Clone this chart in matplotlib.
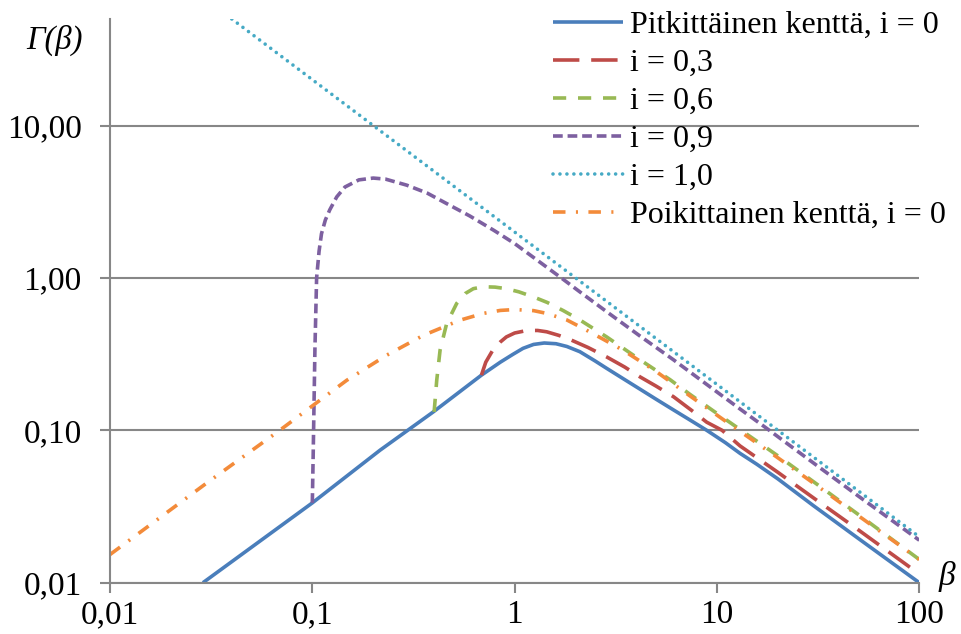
import matplotlib
matplotlib.use('Agg')
import matplotlib.pyplot as plt
from matplotlib.ticker import FixedLocator, FixedFormatter, NullLocator

# Values (log-log axes)
beta_long0 = [0.0288, 0.1, 0.216, 0.396, 0.685, 0.85, 0.98, 1.1, 1.24, 1.4,
              1.6, 1.81, 2.1, 2.5, 2.85, 3.5, 4.17, 5, 6.1, 7.5, 8.9, 11,
              13, 15.7, 20, 30, 50, 100]
gamma_long0 = [0.01, 0.0334, 0.074, 0.132, 0.23, 0.28, 0.315, 0.345, 0.366,
               0.374, 0.37, 0.355, 0.328, 0.285, 0.255, 0.215, 0.186, 0.16,
               0.136, 0.115, 0.1, 0.083, 0.0706, 0.06, 0.048, 0.032, 0.0195,
               0.01]

beta_i03 = [0.685, 0.72, 0.78, 0.85, 0.91, 1.0, 1.15, 1.3, 1.44, 1.65, 1.88,
            2.3, 2.85, 3.5, 4.17, 5, 6.1, 7.5, 8.9, 10.6, 13, 20, 30, 50, 100]
gamma_i03 = [0.23, 0.28, 0.336, 0.38, 0.41, 0.435, 0.452, 0.452, 0.443, 0.42,
             0.394, 0.35, 0.303, 0.26, 0.224, 0.195, 0.166, 0.135, 0.113, 0.1,
             0.079, 0.053, 0.036, 0.0222, 0.0114]

beta_i06 = [0.4, 0.412, 0.428, 0.461, 0.517, 0.57, 0.625, 0.7, 0.8, 0.91,
            1.05, 1.24, 1.45, 1.74, 2.1, 2.85, 4.17, 5.86, 7.36, 9.6, 12.5,
            20, 30, 50, 100]
gamma_i06 = [0.132, 0.213, 0.336, 0.5, 0.68, 0.79, 0.85, 0.875, 0.87, 0.85,
             0.81, 0.75, 0.69, 0.61, 0.53, 0.41, 0.29, 0.215, 0.172, 0.134,
             0.105, 0.068, 0.046, 0.028, 0.0142]

beta_i09 = [0.1, 0.101, 0.103, 0.105, 0.108, 0.111, 0.116, 0.122, 0.132,
            0.145, 0.17, 0.2, 0.23, 0.293, 0.37, 0.46, 0.6, 0.79, 1.0, 1.3,
            1.7, 2.1, 2.85, 4.17, 6.1, 8.9, 13, 17.6, 30, 50, 100]
gamma_i09 = [0.0334, 0.07, 0.34, 1.0, 1.5, 1.95, 2.4, 2.8, 3.4, 3.95, 4.4,
             4.52, 4.45, 4.06, 3.6, 3.08, 2.55, 2.05, 1.68, 1.3, 1.0, 0.81,
             0.6, 0.415, 0.29, 0.2, 0.138, 0.103, 0.061, 0.037, 0.019]

beta_i10 = [0.04, 0.2, 2, 20, 100]
gamma_i10 = [50, 10, 1, 0.1, 0.02]

beta_trans0 = [0.01, 0.03, 0.069, 0.101, 0.148, 0.233, 0.354, 0.537, 0.7,
               0.85, 1.0, 1.24, 1.44, 1.81, 2.19, 2.7, 3.44, 5.03, 7.36, 10.8,
               20, 30, 50, 100]
gamma_trans0 = [0.0153, 0.045, 0.1, 0.146, 0.213, 0.311, 0.42, 0.528, 0.585,
                0.612, 0.62, 0.61, 0.585, 0.53, 0.465, 0.4, 0.335, 0.242,
                0.168, 0.117, 0.066, 0.045, 0.0275, 0.0142]

labels = ['Pitkittäinen kenttä, i = 0', 'i = 0,3', 'i = 0,6', 'i = 0,9',
          'i = 1,0', 'Poikittainen kenttä, i = 0']

x_ticks = [0.01, 0.1, 1, 10, 100]
x_ticklabels = ['0,01', '0,1', '1', '10', '100']
y_ticks = [0.01, 0.1, 1, 10]
y_ticklabels = ['0,01', '0,10', '1,00', '10,00']

plt.rcParams['font.family'] = ['Liberation Serif', 'DejaVu Serif']
plt.rcParams['lines.scale_dashes'] = False
grey = '#878787'
lw = 2.6

fig = plt.figure(figsize=(9.62, 6.34), dpi=100)
ax = fig.add_axes([110 / 962, 51.3 / 634, 809.3 / 962, 563.7 / 634])

ax.plot(beta_long0, gamma_long0, color='#4a7ebb', lw=lw, label=labels[0],
        solid_capstyle='butt')
ax.plot(beta_i03, gamma_i03, color='#be4b48', lw=lw, label=labels[1],
        dashes=(19, 8.5))
ax.plot(beta_i06, gamma_i06, color='#98b954', lw=lw, label=labels[2],
        dashes=(9.5, 8.5))
ax.plot(beta_i09, gamma_i09, color='#7d60a0', lw=lw, label=labels[3],
        dashes=(7, 3.5))
ax.plot(beta_i10, gamma_i10, color='#46aac5', lw=lw, label=labels[4],
        dashes=(0.01, 5), dash_capstyle='round')
ax.plot(beta_trans0, gamma_trans0, color='#f38b3a', lw=lw, label=labels[5],
        dashes=(9, 7.5, 1.5, 7.5))

ax.set_xscale('log')
ax.set_yscale('log')
ax.set_xlim(0.01, 100)
ax.set_ylim(0.01, 50)

ax.xaxis.set_major_locator(FixedLocator(x_ticks))
ax.xaxis.set_major_formatter(FixedFormatter(x_ticklabels))
ax.yaxis.set_major_locator(FixedLocator(y_ticks))
ax.yaxis.set_major_formatter(FixedFormatter(y_ticklabels))
ax.xaxis.set_minor_locator(NullLocator())
ax.yaxis.set_minor_locator(NullLocator())

ax.tick_params(axis='both', direction='out', length=7, width=1.5,
               color=grey, labelsize=24)
ax.tick_params(axis='x', pad=5)
ax.tick_params(axis='y', pad=13.5)

for side in ['top', 'right']:
    ax.spines[side].set_visible(False)
for side in ['left', 'bottom']:
    ax.spines[side].set_color(grey)
    ax.spines[side].set_linewidth(1.5)

ax.yaxis.grid(True, color=grey, lw=1.5)
ax.set_axisbelow(True)

fig.text(55 / 962, 1 - 40 / 634, 'Γ(β)', fontsize=23.5, style='italic',
         ha='center', va='center')
fig.text(947 / 962, 1 - 577 / 634, 'β', fontsize=24, style='italic',
         ha='center', va='center')

ax.legend(loc='upper left', bbox_to_anchor=(553 / 962, 0.983),
          bbox_transform=fig.transFigure, frameon=False, fontsize=23,
          handlelength=2.2, handletextpad=0.2, labelspacing=0.27,
          borderpad=0, borderaxespad=0)

fig.savefig('out.png', dpi=100)
